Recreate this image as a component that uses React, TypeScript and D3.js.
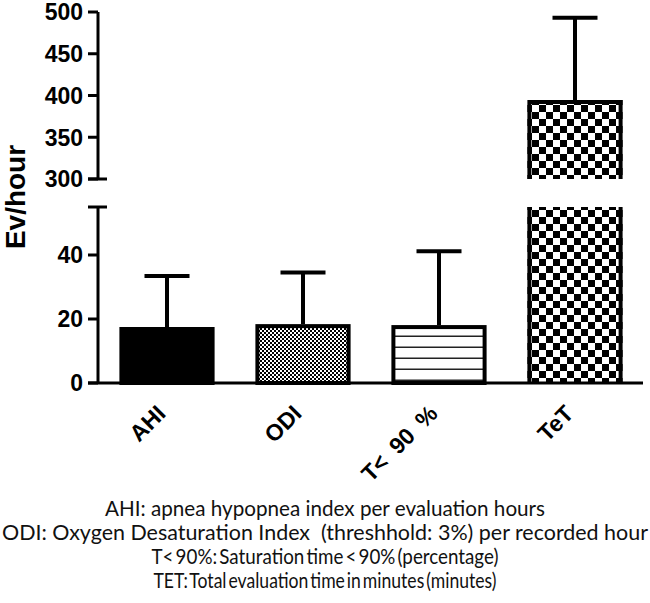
import React from "react";
import * as d3 from "d3";

const categories = ["AHI", "ODI", "T< 90 %", "TeT"];
const means = [17.5, 18.4, 18.1, 394.6];
const upperErr = [15.9, 16.1, 23.1, 98.4];
const fills = ["solid", "fineCheck", "hlines", "bigCheck"];
const lowTicks = [0, 20, 40];
const highTicks = [300, 350, 400, 450, 500];
const footnotes = [
  "AHI: apnea hypopnea index per evaluation hours",
  "ODI: Oxygen Desaturation Index  (threshhold: 3%) per recorded hour",
  "T< 90%: Saturation time < 90% (percentage)",
  "TET: Total evaluation time in minutes (minutes)",
];
const footnoteWidths = [440, 646, 347, 343];

const W = 650;
const H = 603;
const axisX = 98;
const lowMax = 55;
const highMin = 300;
const highMax = 500;

export default function App() {
  const x = d3
    .scaleBand<string>()
    .domain(categories)
    .range([99, 643])
    .paddingInner(0.3)
    .paddingOuter(0.15);
  const yLow = d3.scaleLinear().domain([0, lowMax]).range([383, 207]);
  const yHigh = d3.scaleLinear().domain([highMin, highMax]).range([179, 12]);
  const y = (v: number) => (v <= lowMax ? yLow(v) : yHigh(v));
  const bw = x.bandwidth();
  const font = "'Liberation Sans', Arial, sans-serif";
  const sw = 4;

  return (
    <svg
      width={W}
      height={H}
      style={{ position: "absolute", left: 0, top: 0, background: "#fff" }}
      fontFamily={font}
    >
      <defs>
        <pattern id="fineCheck" width={4} height={4} patternUnits="userSpaceOnUse">
          <rect width={4} height={4} fill="#fff" />
          <rect x={0} y={0} width={2} height={2} fill="#000" />
          <rect x={2} y={2} width={2} height={2} fill="#000" />
        </pattern>
        <pattern id="bigCheck" width={14} height={14} patternUnits="userSpaceOnUse">
          <rect width={14} height={14} fill="#fff" />
          <rect x={0} y={0} width={7} height={7} fill="#000" />
          <rect x={7} y={7} width={7} height={7} fill="#000" />
        </pattern>
        <pattern id="hlines" width={11} height={11} patternUnits="userSpaceOnUse">
          <rect width={11} height={11} fill="#fff" />
          <rect x={0} y={5.5} width={11} height={1.5} fill="#222" />
        </pattern>
      </defs>

      {/* bars */}
      {categories.map((c, i) => {
        const x0 = x(c)!;
        const v = means[i];
        const fill = fills[i] === "solid" ? "#000" : `url(#${fills[i]})`;
        const cx = x0 + bw / 2;
        const top = y(v + upperErr[i]);
        if (v <= lowMax) {
          return (
            <g key={c}>
              <line x1={cx} x2={cx} y1={y(v)} y2={top} stroke="#000" strokeWidth={sw} />
              <line x1={cx - 22.5} x2={cx + 22.5} y1={top} y2={top} stroke="#000" strokeWidth={sw} />
              <rect
                x={x0 + sw / 2}
                y={y(v) + sw / 2}
                width={bw - sw}
                height={yLow(0) - y(v) - sw / 2}
                fill={fill}
                stroke="#000"
                strokeWidth={sw}
              />
            </g>
          );
        }
        const yt = yHigh(v);
        const yb = yHigh(highMin);
        const ylt = yLow(lowMax);
        const ylb = yLow(0);
        return (
          <g key={c}>
            <line x1={cx} x2={cx} y1={yt} y2={top} stroke="#000" strokeWidth={sw} />
            <line x1={cx - 22.5} x2={cx + 22.5} y1={top} y2={top} stroke="#000" strokeWidth={sw} />
            <rect x={x0} y={yt} width={bw} height={yb - yt} fill={fill} />
            <rect x={x0} y={ylt} width={bw} height={ylb - ylt} fill={fill} />
            <path
              d={`M${x0 + sw / 2},${yb}V${yt + sw / 2}H${x0 + bw - sw / 2}V${yb}`}
              fill="none"
              stroke="#000"
              strokeWidth={sw}
            />
            <path
              d={`M${x0 + sw / 2},${ylt}V${ylb}M${x0 + bw - sw / 2},${ylt}V${ylb}`}
              fill="none"
              stroke="#000"
              strokeWidth={sw}
            />
          </g>
        );
      })}

      {/* x axis */}
      <line x1={88} x2={643} y1={yLow(0)} y2={yLow(0)} stroke="#000" strokeWidth={3} />

      {/* y axis, two segments */}
      <line x1={axisX} x2={axisX} y1={yHigh(highMax)} y2={yHigh(highMin)} stroke="#000" strokeWidth={3} />
      <line x1={axisX} x2={axisX} y1={yLow(lowMax)} y2={yLow(0)} stroke="#000" strokeWidth={3} />
      <line x1={88} x2={107} y1={yHigh(highMin)} y2={yHigh(highMin)} stroke="#000" strokeWidth={3} />
      <line x1={88} x2={107} y1={yLow(lowMax)} y2={yLow(lowMax)} stroke="#000" strokeWidth={3} />
      {highTicks.map((t) => (
        <g key={"h" + t}>
          <line x1={88} x2={axisX} y1={yHigh(t)} y2={yHigh(t)} stroke="#000" strokeWidth={3} />
          <text x={83} y={yHigh(t)} dy="0.36em" textAnchor="end" fontSize={23} fontWeight="bold">
            {t}
          </text>
        </g>
      ))}
      {lowTicks.map((t) => (
        <g key={"l" + t}>
          <line x1={88} x2={axisX} y1={yLow(t)} y2={yLow(t)} stroke="#000" strokeWidth={3} />
          <text x={83} y={yLow(t)} dy="0.36em" textAnchor="end" fontSize={23} fontWeight="bold">
            {t}
          </text>
        </g>
      ))}

      {/* y title */}
      <text
        transform={`translate(25,197) rotate(-90)`}
        textAnchor="middle"
        fontSize={28}
        fontWeight="bold"
      >
        Ev/hour
      </text>

      {/* x labels */}
      {categories.map((c) => (
        <text
          key={"xl" + c}
          transform={`translate(${x(c)! + bw / 2},${415}) rotate(-45)`}
          textAnchor="end"
          fontSize={23}
          fontWeight="bold"
          wordSpacing={5}
        >
          {c}
        </text>
      ))}

      {/* footnotes */}
      {footnotes.map((f, i) => (
        <text
          key={"fn" + i}
          x={325}
          y={516 + i * 24}
          textAnchor="middle"
          fontSize={21}
          fontFamily="Lato, 'Open Sans', sans-serif"
          fill="#111"
          wordSpacing={i >= 2 ? -3 : 0}
          textLength={footnoteWidths[i]}
          lengthAdjust="spacingAndGlyphs"
          style={{ whiteSpace: "pre" }}
        >
          {f}
        </text>
      ))}
    </svg>
  );
}
